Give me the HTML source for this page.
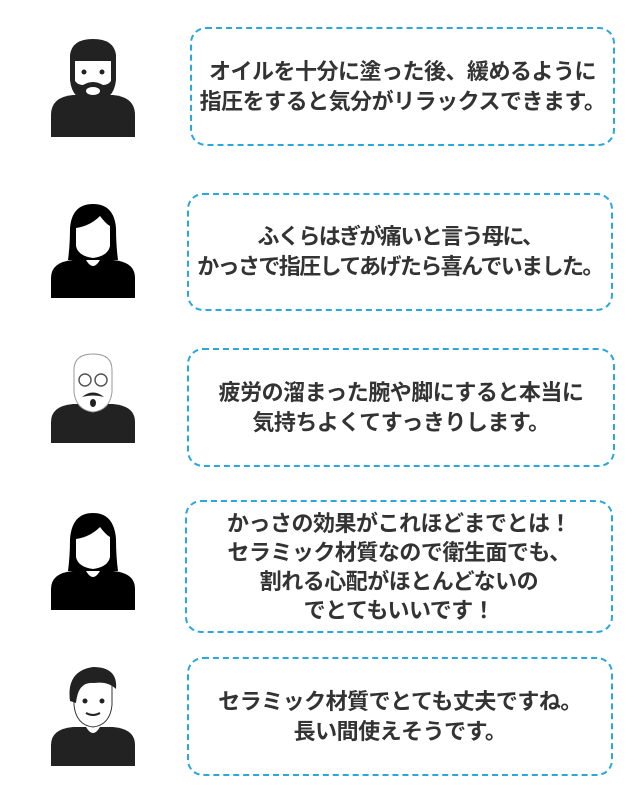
<!DOCTYPE html>
<html><head><meta charset="utf-8"><style>
body{margin:0;width:640px;height:794px;background:#fff;position:relative;overflow:hidden;font-family:"Liberation Sans","Noto Sans CJK JP",sans-serif}
.b{position:absolute;border:2.5px dashed #2aa7dc;border-radius:16px;box-sizing:border-box;display:flex;align-items:center;justify-content:center;text-align:center;color:#333;font-weight:bold;font-size:22px;line-height:30px;white-space:nowrap;letter-spacing:-0.5px}
svg{position:absolute}
</style></head><body>
<div class="b" style="left:190px;top:27px;width:425px;height:119px">オイルを十分に塗った後、緩めるように<br>指圧をすると気分がリラックスできます。</div>
<div class="b" style="left:187px;top:193px;width:426px;height:118px;letter-spacing:-1.6px">ふくらはぎが痛いと言う母に、<br>かっさで指圧してあげたら喜んでいました。</div>
<div class="b" style="left:187px;top:348px;width:428px;height:119px">疲労の溜まった腕や脚にすると本当に<br>気持ちよくてすっきりします。</div>
<div class="b" style="left:185px;top:500px;width:428px;height:133px;line-height:29px">かっさの効果がこれほどまでとは！<br>セラミック材質なので衛生面でも、<br>割れる心配がほとんどないの<br>でとてもいいです！</div>
<div class="b" style="left:187px;top:657px;width:426px;height:119px">セラミック材質でとても丈夫ですね。<br>長い間使えそうです。</div>

<!-- avatar 1 -->
<svg style="left:48px;top:35px" width="90" height="105" viewBox="0 0 90 105">
<path d="M3 102V80Q3 62 25 60H65Q87 62 87 80V102Z" fill="#222"/>
<path d="M37 58Q45 75 53 58Z" fill="#fff"/>
<path d="M22 20Q24 4 45 4Q66 4 68 20V45Q66 66 45 68Q24 66 22 45Z" fill="#222"/>
<path d="M27 26H63V46Q60 50 55 50Q45 44 35 50Q30 50 27 46Z" fill="#fff"/>
<circle cx="36" cy="37" r="2.5" fill="#222"/><circle cx="54" cy="37" r="2.5" fill="#222"/>
<ellipse cx="45" cy="56" rx="7" ry="4" fill="#fff"/>
</svg>
<!-- avatar 2 -->
<svg style="left:48px;top:200px" width="90" height="100" viewBox="0 0 90 100">
<path d="M3 98V78Q3 62 25 60H65Q87 62 87 78V98Z" fill="#000"/>
<path d="M37 58Q45 74 53 58Z" fill="#fff"/>
<path d="M20 60Q22 45 22 28Q24 4 45 4Q66 4 68 28Q68 45 70 60Z" fill="#000"/>
<path d="M28 28Q42 26 52 16Q58 24 62 26V46Q60 56 45 58Q30 56 28 46Z" fill="#fff"/>
</svg>
<!-- avatar 3 -->
<svg style="left:48px;top:350px" width="90" height="95" viewBox="0 0 90 95">
<path d="M3 93V72Q3 56 25 54H65Q87 56 87 72V93Z" fill="#222"/>
<path d="M26 20Q26 4 45 4Q64 4 64 20V42Q62 60 45 62Q28 60 26 42Z" fill="#fff" stroke="#999" stroke-width="1"/>
<circle cx="37" cy="30" r="6" fill="none" stroke="#555" stroke-width="1.5"/><circle cx="53" cy="30" r="6" fill="none" stroke="#555" stroke-width="1.5"/>
<path d="M34 47Q45 38 56 47Q45 44 34 47Z" fill="#222"/><ellipse cx="45" cy="53" rx="3" ry="4" fill="#222"/>
</svg>
<!-- avatar 4 -->
<svg style="left:48px;top:507px" width="90" height="105" viewBox="0 0 90 105">
<path d="M3 103V82Q3 66 25 64H65Q87 66 87 82V103Z" fill="#000"/>
<path d="M37 62Q45 78 53 62Z" fill="#fff"/>
<path d="M20 64Q22 49 22 32Q24 6 45 6Q66 6 68 32Q68 49 70 64Z" fill="#000"/>
<path d="M28 32Q42 30 52 20Q58 28 62 30V50Q60 60 45 62Q30 60 28 50Z" fill="#fff"/>
</svg>
<!-- avatar 5 -->
<svg style="left:48px;top:663px" width="90" height="105" viewBox="0 0 90 105">
<path d="M3 103V82Q3 66 25 64H65Q87 66 87 82V103Z" fill="#222"/>
<path d="M37 62Q45 78 53 62Z" fill="#fff"/>
<path d="M26 24Q26 8 45 8Q64 8 64 24V42Q62 62 45 64Q28 62 26 42Z" fill="#fff" stroke="#333"/>
<path d="M22 38Q18 8 45 4Q70 4 68 26Q60 18 46 20Q30 18 28 40Z" fill="#222"/>
<circle cx="37" cy="38" r="2.5" fill="#222"/><circle cx="54" cy="38" r="2.5" fill="#222"/>
<path d="M38 50Q45 54 52 50" stroke="#222" stroke-width="2" fill="none"/>
</svg>
</body></html>
